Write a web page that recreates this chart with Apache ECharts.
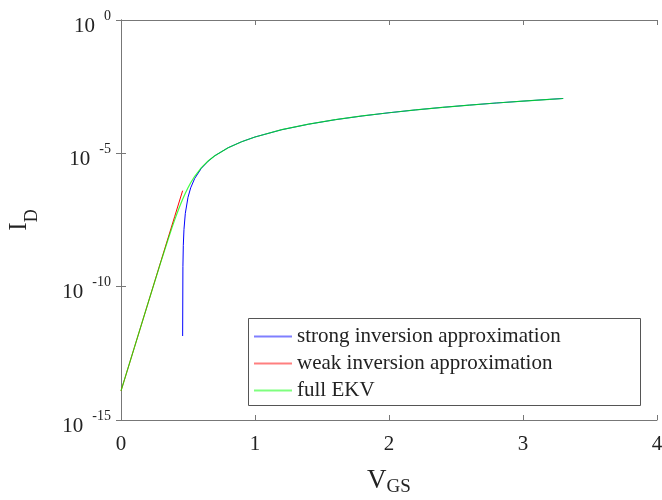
<!DOCTYPE html>
<html>
<head>
<meta charset="utf-8">
<script src="https://cdn.jsdelivr.net/npm/echarts@6/dist/echarts.min.js"></script>
<style>
  html, body { margin: 0; padding: 0; background: #fff; }
  #chartContainer { width: 662px; height: 500px; }
</style>
</head>
<body>
<div id="chartContainer"></div>
<script>
// values (V_GS in volts, I_D in amps)
var vWeak = [0, 0.1, 0.2, 0.3, 0.4, 0.46];
var iWeak = [1.23e-14, 5.27e-13, 2.26e-11, 9.73e-10, 4.17e-8, 3.98e-7];

var vStrong = [0.4601, 0.462, 0.465, 0.47, 0.48, 0.5, 0.52, 0.55, 0.6, 0.65, 0.7, 0.8, 0.9, 1.0,
  1.2, 1.4, 1.6, 1.8, 2.0, 2.2, 2.4, 2.6, 2.8, 3.0, 3.2, 3.3];
var iStrong = [1.41e-12, 5.62e-10, 3.52e-9, 1.41e-8, 5.62e-8, 2.25e-7, 5.07e-7, 1.14e-6, 2.76e-6,
  5.08e-6, 8.11e-6, 1.63e-5, 2.72e-5, 4.10e-5, 7.71e-5, 1.24e-4, 1.83e-4, 2.52e-4, 3.33e-4,
  4.26e-4, 5.30e-4, 6.44e-4, 7.71e-4, 9.08e-4, 1.06e-3, 1.14e-3];

var vFull = [0, 0.1, 0.2, 0.3, 0.35, 0.38, 0.4, 0.42, 0.44, 0.46, 0.48, 0.5, 0.52, 0.55, 0.6, 0.65,
  0.7, 0.8, 0.9, 1.0, 1.2, 1.4, 1.6, 1.8, 2.0, 2.2, 2.4, 2.6, 2.8, 3.0, 3.2, 3.3];
var iFull = [1.23e-14, 5.27e-13, 2.26e-11, 9.27e-10, 5.65e-9, 1.60e-8, 3.13e-8, 5.94e-8, 1.09e-7,
  1.91e-7, 3.21e-7, 5.15e-7, 7.89e-7, 1.38e-6, 2.90e-6, 5.15e-6, 8.15e-6, 1.63e-5, 2.72e-5,
  4.10e-5, 7.71e-5, 1.24e-4, 1.83e-4, 2.52e-4, 3.33e-4, 4.26e-4, 5.30e-4, 6.44e-4, 7.71e-4,
  9.08e-4, 1.06e-3, 1.14e-3];

var seriesNames = ['strong inversion approximation', 'weak inversion approximation', 'full EKV'];
var yTickLabels = { '0': '0', '-5': '-5', '-10': '-10', '-15': '-15' };

function pairs(xs, ys) {
  return xs.map(function (x, i) { return [x, ys[i]]; });
}

var chart = echarts.init(document.getElementById('chartContainer'));
var serif = 'Liberation Serif';
var axisColor = '#777';

chart.setOption({
  animation: false,
  textStyle: { fontFamily: serif },
  grid: { left: 121, right: 5, top: 20, bottom: 80, containLabel: false, outerBoundsMode: 'none' },
  // legend frame
  graphic: [{
    type: 'rect',
    left: 248,
    top: 318,
    shape: { width: 392, height: 87 },
    style: { fill: '#fff', stroke: '#555', lineWidth: 1 },
    z: 3
  }],
  legend: {
    orient: 'vertical',
    left: 248,
    top: 318,
    padding: [8, 6, 8, 6],
    icon: 'rect',
    itemWidth: 38,
    itemHeight: 2,
    itemGap: 6,
    itemStyle: { opacity: 0.5 },
    z: 10,
    textStyle: { fontFamily: serif, fontSize: 21, color: '#222', lineHeight: 19 },
    data: seriesNames
  },
  xAxis: [{
    type: 'value',
    min: 0,
    max: 4,
    interval: 1,
    name: '{v|V}{s|GS}',
    nameLocation: 'middle',
    nameGap: 44,
    nameTextStyle: {
      rich: {
        v: { fontFamily: serif, fontSize: 27, color: '#222' },
        s: { fontFamily: serif, fontSize: 19, color: '#222', padding: [14, 0, 0, 0] }
      }
    },
    axisLine: { lineStyle: { color: axisColor } },
    axisTick: { inside: true, length: 5, lineStyle: { color: axisColor } },
    axisLabel: { fontFamily: serif, fontSize: 21, color: '#222', margin: 14 },
    splitLine: { show: false }
  }, {
    type: 'value',
    position: 'top',
    min: 0,
    max: 4,
    interval: 1,
    axisLine: { lineStyle: { color: axisColor } },
    axisTick: { inside: true, length: 5, lineStyle: { color: axisColor } },
    axisLabel: { show: false },
    splitLine: { show: false }
  }],
  yAxis: [{
    type: 'log',
    logBase: 10,
    min: 1e-15,
    max: 1,
    interval: 5,
    name: '{i|I}{d|D}',
    nameLocation: 'middle',
    nameRotate: 90,
    nameGap: 80,
    nameTextStyle: {
      rich: {
        i: { fontFamily: serif, fontSize: 25, color: '#222' },
        d: { fontFamily: serif, fontSize: 18, color: '#222', padding: [26, 0, 0, 0] }
      }
    },
    axisLine: { show: true, lineStyle: { color: axisColor } },
    axisTick: { show: true, inside: true, length: 5, lineStyle: { color: axisColor } },
    axisLabel: {
      margin: 10,
      formatter: function (val) {
        var e = String(Math.round(Math.log10(val)));
        return '{b|10}{s|' + yTickLabels[e] + '}';
      },
      rich: {
        b: { fontFamily: serif, fontSize: 21, color: '#222', padding: [12, 0, 0, 0] },
        s: { fontFamily: serif, fontSize: 14, color: '#222', padding: [0, 0, 8, 9] }
      }
    },
    splitLine: { show: false }
  }, {
    type: 'log',
    logBase: 10,
    position: 'right',
    min: 1e-15,
    max: 1,
    interval: 5,
    axisLine: { show: true, lineStyle: { color: axisColor } },
    axisTick: { show: true, inside: true, length: 5, lineStyle: { color: axisColor } },
    axisLabel: { show: false },
    splitLine: { show: false }
  }],
  series: [{
    name: seriesNames[0],
    type: 'line',
    symbol: 'none',
    color: '#0000ff',
    lineStyle: { width: 1 },
    data: pairs(vStrong, iStrong)
  }, {
    name: seriesNames[1],
    type: 'line',
    symbol: 'none',
    color: '#ff0000',
    lineStyle: { width: 1 },
    data: pairs(vWeak, iWeak)
  }, {
    name: seriesNames[2],
    type: 'line',
    symbol: 'none',
    color: '#00ff00',
    lineStyle: { width: 1.2, opacity: 0.75 },
    data: pairs(vFull, iFull)
  }]
});

window.addEventListener('resize', function () {
  chart.resize();
});
</script>
</body>
</html>
